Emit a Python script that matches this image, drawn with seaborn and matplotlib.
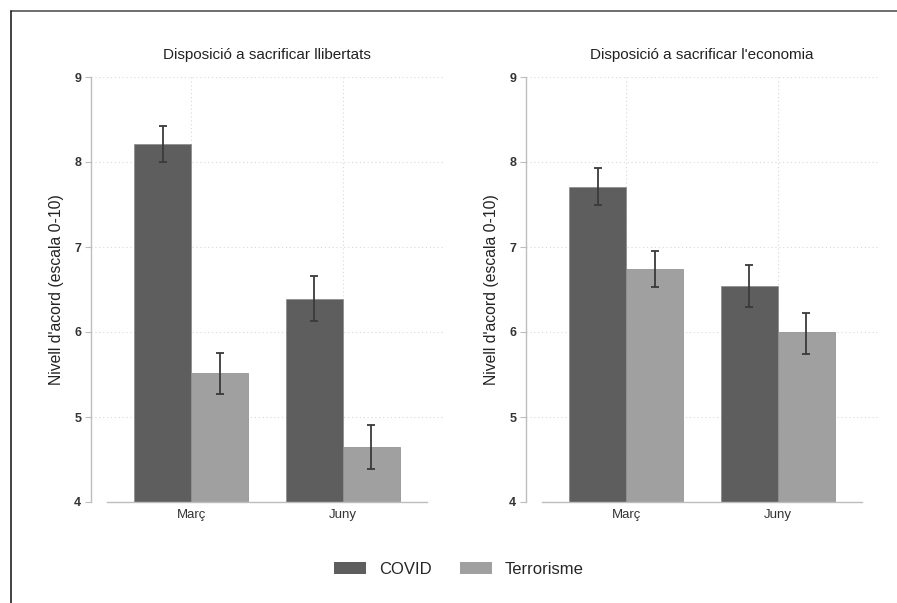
import matplotlib
matplotlib.use("Agg")
import matplotlib.pyplot as plt
from matplotlib.lines import Line2D
import seaborn as sns
import pandas as pd
import numpy as np

periods = ["Març", "Juny"]
groups = ["COVID", "Terrorisme"]
titles = ["Disposició a sacrificar llibertats", "Disposició a sacrificar l'economia"]

# Panel 1: libertats
lib_covid = [8.21, 6.39]
lib_covid_lo = [8.00, 6.13]
lib_covid_hi = [8.42, 6.66]
lib_terr = [5.52, 4.65]
lib_terr_lo = [5.27, 4.39]
lib_terr_hi = [5.75, 4.91]

# Panel 2: economia
eco_covid = [7.71, 6.54]
eco_covid_lo = [7.49, 6.29]
eco_covid_hi = [7.93, 6.79]
eco_terr = [6.74, 6.00]
eco_terr_lo = [6.53, 5.74]
eco_terr_hi = [6.95, 6.22]

panels = [
    {"COVID": (lib_covid, lib_covid_lo, lib_covid_hi),
     "Terrorisme": (lib_terr, lib_terr_lo, lib_terr_hi)},
    {"COVID": (eco_covid, eco_covid_lo, eco_covid_hi),
     "Terrorisme": (eco_terr, eco_terr_lo, eco_terr_hi)},
]

sns.set_theme(style="white")
plt.rcParams["font.family"] = ["Liberation Sans", "DejaVu Sans"]

palette = {"COVID": "#5e5e5e", "Terrorisme": "#a0a0a0"}

fig = plt.figure(figsize=(8.97, 6.03), dpi=100)
ax_pos = [[91/897, 1-502/603, 352/897, 425/603],
          [526/897, 1-502/603, 352/897, 425/603]]

for k, pdata in enumerate(panels):
    ax = fig.add_axes(ax_pos[k])
    rows = []
    for g in groups:
        vals = pdata[g][0]
        for p, v in zip(periods, vals):
            rows.append({"Període": p, "Grup": g, "Valor": v})
    df = pd.DataFrame(rows)
    sns.barplot(data=df, x="Període", y="Valor", hue="Grup", order=periods,
                hue_order=groups, palette=palette, width=0.75, gap=0,
                errorbar=None, edgecolor="#8a8a8a", linewidth=0.5,
                saturation=1, ax=ax)
    for ci, g in enumerate(groups):
        cont = ax.containers[ci]
        vals, lo, hi = pdata[g]
        xs = [b.get_x() + b.get_width() / 2 for b in cont]
        vals = np.array(vals); lo = np.array(lo); hi = np.array(hi)
        ax.errorbar(xs, vals, yerr=[vals - lo, hi - vals], fmt="none",
                    ecolor="#3a3a3a", elinewidth=1.3, capsize=3, capthick=1.3,
                    zorder=5)
    ax.set_ylim(4, 9)
    ax.set_xlim(-0.66, 1.66)
    ax.set_yticks([4, 5, 6, 7, 8, 9])
    ax.set_yticklabels(["4", "5", "6", "7", "8", "9"])
    ax.set_xticks([0, 1])
    ax.set_xticklabels(periods)
    ax.grid(True, axis="both", linestyle=(0, (1, 2.5)), color="#d8d8d8", linewidth=0.8)
    ax.set_axisbelow(True)
    for s in ["top", "right"]:
        ax.spines[s].set_visible(False)
    ax.spines["left"].set_color("#bdbdbd")
    ax.spines["left"].set_linewidth(1.0)
    ax.spines["bottom"].set_color("#bdbdbd")
    ax.spines["bottom"].set_linewidth(1.0)
    ax.spines["bottom"].set_bounds(-0.555, 1.555)
    ax.tick_params(axis="y", which="major", left=True, length=4, width=0.8,
                   color="#bdbdbd", labelsize=9, labelcolor="#333333", pad=3)
    for t in ax.get_yticklabels():
        t.set_fontweight("bold")
    ax.tick_params(axis="x", which="major", bottom=False, length=0,
                   labelsize=9.5, labelcolor="#333333", pad=5)
    ax.set_xlabel("")
    ax.set_ylabel("Nivell d'acord (escala 0-10)", fontsize=11.3, color="#222222", labelpad=7)
    ax.set_title(titles[k], fontsize=11, color="#222222", pad=13)
    leg = ax.get_legend()
    if leg is not None:
        handles = leg.legend_handles
        labels = [t.get_text() for t in leg.get_texts()]
        leg.remove()

for h in handles:
    h.set_edgecolor("none")

fig.legend(handles, labels, loc="center", bbox_to_anchor=(459/897, 1-569/603),
           ncol=2, frameon=False, fontsize=12, handlelength=1.9, handleheight=0.75,
           columnspacing=1.7, handletextpad=0.8)

# outer frame lines (top and left)
fig.add_artist(Line2D([11/897, 1], [1-11/603, 1-11/603], transform=fig.transFigure,
                      color="#555555", linewidth=1.2))
fig.add_artist(Line2D([11/897, 11/897], [0, 1-11/603], transform=fig.transFigure,
                      color="#222222", linewidth=1.2))

fig.savefig("out.png", dpi=100)
